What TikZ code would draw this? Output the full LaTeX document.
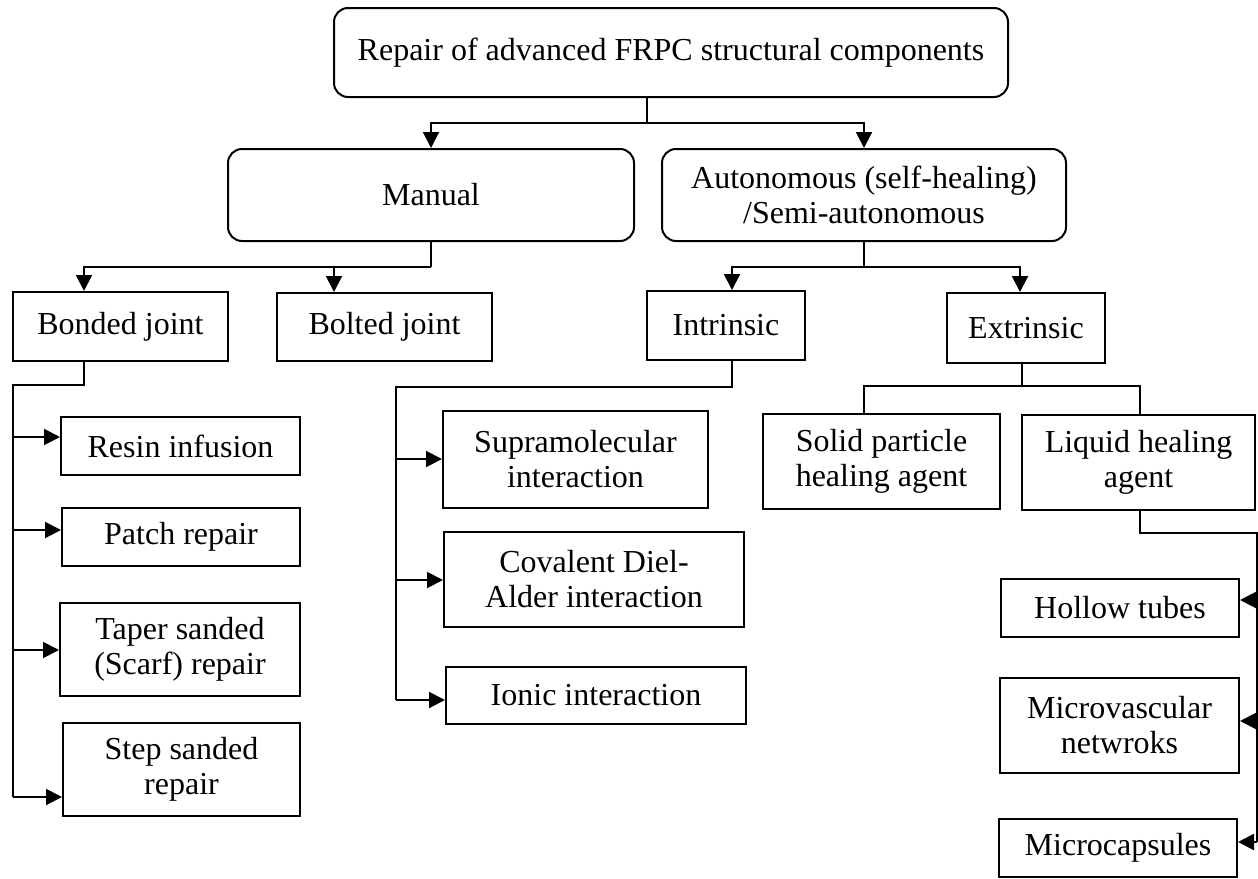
\documentclass[tikz,border=0pt]{standalone}
\usepackage{fontspec}
\setmainfont{Liberation Serif}
\usepackage{tikz}
\usetikzlibrary{shapes, arrows.meta, calc}

\begin{document}
\begin{tikzpicture}[x=0.5pt, y=-0.5pt,
    every node/.style={font=\fontsize{16}{17.5}\selectfont, align=center, inner sep=0pt},
    box/.style={rectangle, draw, line width=1pt},
    rbox/.style={box, rounded corners=7pt},
    line/.style={line width=1pt},
    arr/.style={line width=1pt, -{Triangle[length=8pt, width=8pt]}}]
        \useasboundingbox (0,0) rectangle (1258,878);
        % level 0 and 1
        \node (top) [rbox, minimum width=337pt, minimum height=44.5pt] at (671,52.5) {Repair of advanced FRPC structural components};
        \node (manual) [rbox, minimum width=203pt, minimum height=46pt] at (431,195) {Manual};
        \node (auto) [rbox, minimum width=202pt, minimum height=46pt] at (864,195) {Autonomous (self-healing)\\/Semi-autonomous};
        % level 2
        \node (bonded) [box, minimum width=107.5pt, minimum height=34.5pt] at (120.5,326.5) {Bonded joint};
        \node (bolted) [box, minimum width=107.5pt, minimum height=34pt] at (384.5,327) {Bolted joint};
        \node (intrinsic) [box, minimum width=79pt, minimum height=34.5pt] at (726,325.5) {Intrinsic};
        \node (extrinsic) [box, minimum width=79pt, minimum height=35pt] at (1026,328) {Extrinsic};
        % bonded joint repairs
        \node (resin) [box, minimum width=119.5pt, minimum height=29pt] at (180.5,446) {Resin infusion};
        \node (patch) [box, minimum width=119pt, minimum height=29pt] at (181,537) {Patch repair};
        \node (taper) [box, minimum width=120pt, minimum height=46.5pt] at (180,649.5) {Taper sanded\\(Scarf) repair};
        \node (stepsand) [box, minimum width=118.5pt, minimum height=46.5pt] at (181.5,769.5) {Step sanded\\repair};
        % intrinsic
        \node (supra) [box, minimum width=132.5pt, minimum height=48.5pt] at (575.5,459.5) {Supramolecular\\interaction};
        \node (covalent) [box, minimum width=150pt, minimum height=47.5pt] at (594,579.5) {Covalent Diel-\\Alder interaction};
        \node (ionic) [box, minimum width=150pt, minimum height=28.5pt] at (596,695.5) {Ionic interaction};
        % extrinsic
        \node (solid) [box, minimum width=118.5pt, minimum height=47.5pt] at (881.5,461.5) {Solid particle\\healing agent};
        \node (liquid) [box, minimum width=116.5pt, minimum height=47.5pt] at (1138.5,462.5) {Liquid healing\\agent};
        \node (hollow) [box, minimum width=119pt, minimum height=29pt] at (1120,608) {Hollow tubes};
        \node (microvasc) [box, minimum width=119.5pt, minimum height=47.5pt] at (1119.5,725.5) {Microvascular\\netwroks};
        \node (microcap) [box, minimum width=119pt, minimum height=29pt] at (1118,848) {Microcapsules};

        % junctions
        \coordinate (jtop) at (647,123);
        \coordinate (jman) at (431,267);
        \coordinate (jauto) at (864,267);
        \coordinate (jbond) at (13,385);
        \coordinate (jint) at (396,387);
        \coordinate (jext) at (1022,386);
        \coordinate (jliq) at (1257,533);

        \draw[line] (top.south -| jtop) -- (jtop);
        \draw[arr] (jtop) -| (manual.north);
        \draw[arr] (jtop) -| (auto.north);

        \draw[line] (manual.south) -- (jman);
        \draw[arr] (jman) -| (bonded.north -| 84,0);
        \draw[arr] (jman) -| (bolted.north -| 334,0);

        \draw[line] (auto.south) -- (jauto);
        \draw[arr] (jauto) -| (intrinsic.north -| 732,0);
        \draw[arr] (jauto) -| (extrinsic.north -| 1020,0);

        \draw[line] (bonded.south -| 84,0) |- (jbond) -- (13,797);
        \draw[arr] (jbond |- 0,437) -- (resin.west |- 0,437);
        \draw[arr] (jbond |- 0,530) -- (patch.west |- 0,530);
        \draw[arr] (jbond |- 0,650) -- (taper.west |- 0,650);
        \draw[arr] (jbond |- 0,797) -- (stepsand.west |- 0,797);

        \draw[line] (intrinsic.south -| 732,0) |- (jint) -- (396,700);
        \draw[arr] (jint |- 0,459) -- (supra.west |- 0,459);
        \draw[arr] (jint |- 0,580) -- (covalent.west |- 0,580);
        \draw[arr] (jint |- 0,700) -- (ionic.west |- 0,700);

        \draw[line] (extrinsic.south -| jext) -- (jext);
        \draw[line] (solid.north -| 864,0) |- (jext) -| (liquid.north -| 1140,0);

        \draw[line] (liquid.south -| 1140,0) |- (jliq) -- (1257,842);
        \draw[arr] (jliq |- 0,600) -- (hollow.east |- 0,600);
        \draw[arr] (jliq |- 0,721) -- (microvasc.east |- 0,721);
        \draw[arr] (jliq |- 0,842) -- (microcap.east |- 0,842);
    \end{tikzpicture}
\end{document}
